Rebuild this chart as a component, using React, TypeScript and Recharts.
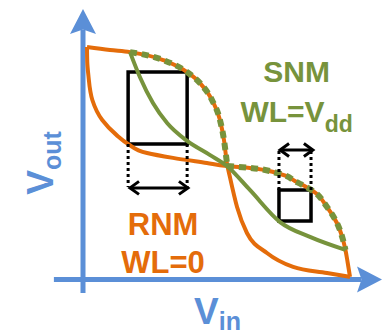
import React from 'react';
import {
  ComposedChart,
  Line,
  XAxis,
  YAxis,
  ReferenceLine,
  ReferenceArea,
  ReferenceDot,
} from 'recharts';

const BLUE = '#5B8FD7';
const ORANGE = '#E46C0A';
const GREEN = '#77933C';
const FONT = '"Liberation Sans", Arial, Helvetica, sans-serif';

// Read-mode (WL=0) inverter transfer curve, Vout vs Vin (normalised to Vdd)
const rnmCurveA = [
  { x: 0.015, y: 1.0 },
  { x: 0.101, y: 0.987 },
  { x: 0.176, y: 0.978 },
  { x: 0.3, y: 0.944 },
  { x: 0.39, y: 0.892 },
  { x: 0.438, y: 0.845 },
  { x: 0.483, y: 0.772 },
  { x: 0.513, y: 0.686 },
  { x: 0.528, y: 0.6 },
  { x: 0.539, y: 0.501 },
  { x: 0.551, y: 0.437 },
  { x: 0.577, y: 0.312 },
  { x: 0.614, y: 0.2 },
  { x: 0.689, y: 0.114 },
  { x: 0.787, y: 0.054 },
  { x: 0.914, y: 0.028 },
  { x: 1.0, y: 0.011 },
];

// Mirrored inverter curve (Vin vs Vout)
const rnmCurveB = [
  { x: 0.015, y: 1.0 },
  { x: 0.016, y: 0.935 },
  { x: 0.02, y: 0.88 },
  { x: 0.035, y: 0.772 },
  { x: 0.072, y: 0.686 },
  { x: 0.125, y: 0.622 },
  { x: 0.169, y: 0.583 },
  { x: 0.24, y: 0.544 },
  { x: 0.337, y: 0.523 },
  { x: 0.464, y: 0.501 },
  { x: 0.539, y: 0.488 },
  { x: 0.625, y: 0.48 },
  { x: 0.727, y: 0.458 },
  { x: 0.801, y: 0.419 },
  { x: 0.861, y: 0.381 },
  { x: 0.914, y: 0.312 },
  { x: 0.951, y: 0.243 },
  { x: 0.974, y: 0.17 },
  { x: 0.983, y: 0.127 },
  { x: 0.991, y: 0.075 },
  { x: 1.0, y: 0.011 },
];

// Hold-mode (WL=Vdd) inverter curve
const snmCurve = [
  { x: 0.176, y: 0.978 },
  { x: 0.213, y: 0.871 },
  { x: 0.262, y: 0.759 },
  { x: 0.315, y: 0.673 },
  { x: 0.39, y: 0.596 },
  { x: 0.476, y: 0.535 },
  { x: 0.539, y: 0.488 },
  { x: 0.625, y: 0.385 },
  { x: 0.738, y: 0.247 },
  { x: 0.85, y: 0.183 },
  { x: 0.983, y: 0.127 },
];

// Segments of the RNM curves shared by the SNM butterfly (dashed green)
const snmSharedA = rnmCurveA.slice(2, 10);
const snmSharedB = rnmCurveB.slice(10, 19);

const rnmBox = { x1: 0.169, x2: 0.39, y1: 0.583, y2: 0.892 };
const snmBox = { x1: 0.734, x2: 0.854, y1: 0.252, y2: 0.385 };

const rnmGuideBottom = 0.398;
const rnmArrowY = 0.394;
const rnmArrowX = [0.176, 0.393];
const snmGuideTop = 0.557;
const snmArrowY = 0.557;
const snmArrowX = [0.738, 0.861];

const xAxisRange = [-0.109, 1.12];
const yAxisRange = [-0.058, 1.163];

const labels = [
  { id: 'snm', x: 0.8, y: 0.849, main: 'SNM', sub: '', color: GREEN, size: 30, subSize: 0, dy: 0, rotate: false },
  { id: 'wlvdd', x: 0.8, y: 0.677, main: 'WL=V', sub: 'dd', color: GREEN, size: 30, subSize: 23, dy: 10, rotate: false },
  { id: 'rnm', x: 0.3, y: 0.191, main: 'RNM', sub: '', color: ORANGE, size: 31, subSize: 0, dy: 0, rotate: false },
  { id: 'wl0', x: 0.3, y: 0.028, main: 'WL=0', sub: '', color: ORANGE, size: 31, subSize: 0, dy: 0, rotate: false },
  { id: 'vin', x: 0.504, y: -0.192, main: 'V', sub: 'in', color: BLUE, size: 37, subSize: 25, dy: 6, rotate: false },
  { id: 'vout', x: -0.112, y: 0.501, main: 'V', sub: 'out', color: BLUE, size: 37, subSize: 25, dy: 8, rotate: true },
];

function axisArrowShape(props: any) {
  const { x1, y1, x2, y2 } = props;
  const dx = x2 - x1;
  const dy = y2 - y1;
  const L = Math.hypot(dx, dy) || 1;
  const ux = dx / L;
  const uy = dy / L;
  const px = -uy;
  const py = ux;
  const len = 25;
  const half = 13;
  const bx = x2 - ux * len;
  const by = y2 - uy * len;
  const nx = x2 - ux * len * 0.82;
  const ny = y2 - uy * len * 0.82;
  return (
    <g>
      <line x1={x1} y1={y1} x2={nx} y2={ny} stroke={BLUE} strokeWidth={5} />
      <polygon
        points={`${x2},${y2} ${bx + px * half},${by + py * half} ${nx},${ny} ${bx - px * half},${by - py * half}`}
        fill={BLUE}
      />
    </g>
  );
}

function doubleArrowShape(props: any) {
  const { x1, y1, x2, y2 } = props;
  const dx = x2 - x1;
  const dy = y2 - y1;
  const L = Math.hypot(dx, dy) || 1;
  const ux = dx / L;
  const uy = dy / L;
  const px = -uy;
  const py = ux;
  const len = 9;
  const half = 6.5;
  const c2 = `${x2 - ux * len + px * half},${y2 - uy * len + py * half} ${x2},${y2} ${x2 - ux * len - px * half},${y2 - uy * len - py * half}`;
  const c1 = `${x1 + ux * len + px * half},${y1 + uy * len + py * half} ${x1},${y1} ${x1 + ux * len - px * half},${y1 + uy * len - py * half}`;
  return (
    <g>
      <line x1={x1 + ux * 1.5} y1={y1 + uy * 1.5} x2={x2 - ux * 1.5} y2={y2 - uy * 1.5} stroke="#000" strokeWidth={3} />
      <polyline points={c1} fill="none" stroke="#000" strokeWidth={3} strokeLinejoin="miter" />
      <polyline points={c2} fill="none" stroke="#000" strokeWidth={3} strokeLinejoin="miter" />
    </g>
  );
}

function makeLabelShape(lbl: (typeof labels)[number]) {
  return (props: any) => {
    const { cx, cy } = props;
    return (
      <text
        x={cx}
        y={cy}
        textAnchor="middle"
        fontFamily={FONT}
        fontWeight="bold"
        fontSize={lbl.size}
        fill={lbl.color}
        transform={lbl.rotate ? `rotate(-90 ${cx} ${cy})` : undefined}
      >
        {lbl.main}
        {lbl.sub ? (
          <tspan fontSize={lbl.subSize} dy={lbl.dy}>
            {lbl.sub}
          </tspan>
        ) : null}
      </text>
    );
  };
}

export default function App() {
  return (
    <div style={{ position: 'absolute', left: 0, top: 0, width: 382, height: 335, background: '#fff' }}>
      <ComposedChart
        width={382}
        height={335}
        margin={{ top: 47, right: 32, bottom: 55.5, left: 83 }}
      >
        <XAxis dataKey="x" type="number" domain={[0, 1]} hide />
        <YAxis dataKey="y" type="number" domain={[0, 1]} hide />

        <ReferenceLine
          segment={[{ x: xAxisRange[0], y: 0 }, { x: xAxisRange[1], y: 0 }]}
          ifOverflow="visible"
          shape={axisArrowShape}
        />
        <ReferenceLine
          segment={[{ x: 0, y: yAxisRange[0] }, { x: 0, y: yAxisRange[1] }]}
          ifOverflow="visible"
          shape={axisArrowShape}
        />

        <Line data={rnmCurveA} dataKey="y" type="monotone" stroke={ORANGE} strokeWidth={4} dot={false} activeDot={false} isAnimationActive={false} />
        <Line data={rnmCurveB} dataKey="y" type="monotoneY" stroke={ORANGE} strokeWidth={4} dot={false} activeDot={false} isAnimationActive={false} />
        <Line data={snmCurve} dataKey="y" type="monotone" stroke={GREEN} strokeWidth={4} dot={false} activeDot={false} isAnimationActive={false} />
        <Line data={snmSharedA} dataKey="y" type="monotone" stroke={GREEN} strokeWidth={6} strokeDasharray="7 5" dot={false} activeDot={false} isAnimationActive={false} />
        <Line data={snmSharedB} dataKey="y" type="monotoneY" stroke={GREEN} strokeWidth={6} strokeDasharray="7 5" dot={false} activeDot={false} isAnimationActive={false} />

        <ReferenceArea x1={rnmBox.x1} x2={rnmBox.x2} y1={rnmBox.y1} y2={rnmBox.y2} fill="none" fillOpacity={0} stroke="#000" strokeWidth={3.5} ifOverflow="visible" />
        <ReferenceArea x1={snmBox.x1} x2={snmBox.x2} y1={snmBox.y1} y2={snmBox.y2} fill="none" fillOpacity={0} stroke="#000" strokeWidth={3.5} ifOverflow="visible" />

        <ReferenceLine segment={[{ x: rnmBox.x1, y: rnmBox.y1 }, { x: rnmBox.x1, y: rnmGuideBottom }]} stroke="#000" strokeWidth={3} strokeDasharray="3 3" ifOverflow="visible" />
        <ReferenceLine segment={[{ x: rnmBox.x2, y: rnmBox.y1 }, { x: rnmBox.x2, y: rnmGuideBottom }]} stroke="#000" strokeWidth={3} strokeDasharray="3 3" ifOverflow="visible" />
        <ReferenceLine segment={[{ x: rnmArrowX[0], y: rnmArrowY }, { x: rnmArrowX[1], y: rnmArrowY }]} ifOverflow="visible" shape={doubleArrowShape} />

        <ReferenceLine segment={[{ x: snmBox.x1, y: snmBox.y2 }, { x: snmBox.x1, y: snmGuideTop }]} stroke="#000" strokeWidth={3} strokeDasharray="3 3" ifOverflow="visible" />
        <ReferenceLine segment={[{ x: snmBox.x2, y: snmBox.y2 }, { x: snmBox.x2, y: snmGuideTop }]} stroke="#000" strokeWidth={3} strokeDasharray="3 3" ifOverflow="visible" />
        <ReferenceLine segment={[{ x: snmArrowX[0], y: snmArrowY }, { x: snmArrowX[1], y: snmArrowY }]} ifOverflow="visible" shape={doubleArrowShape} />

        {labels.map((lbl) => (
          <ReferenceDot key={lbl.id} x={lbl.x} y={lbl.y} r={0} ifOverflow="visible" shape={makeLabelShape(lbl)} />
        ))}
      </ComposedChart>
    </div>
  );
}
